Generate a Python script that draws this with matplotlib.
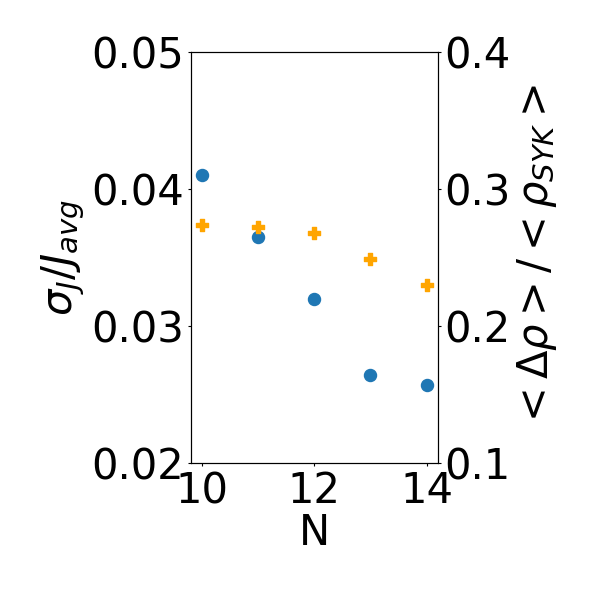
import matplotlib
matplotlib.use("Agg")
import matplotlib.pyplot as plt

# system sizes
N = [10, 11, 12, 13, 14]
# relative coupling spread sigma_J / J_avg (left axis)
sigma_ratio = [0.0410, 0.0365, 0.0320, 0.0264, 0.0257]
# relative density deviation <drho>/<rho_SYK> (right axis)
rho_ratio = [0.2737, 0.2723, 0.2677, 0.2487, 0.2297]

left_ticks = [0.02, 0.03, 0.04, 0.05]
right_ticks = [0.1, 0.2, 0.3, 0.4]
x_ticks = [10, 12, 14]

fs = 30

fig = plt.figure(figsize=(5.98, 5.90), dpi=100)
ax = fig.add_axes([0.319, 0.215, 0.413, 0.697])
ax.scatter(N, sigma_ratio, s=75, color="#1f77b4", marker="o")
ax.set_ylim(0.02, 0.05)
ax.set_yticks(left_ticks)
ax.set_yticklabels(["0.02", "0.03", "0.04", "0.05"])
ax.set_xlim(9.8, 14.2)
ax.set_xticks(x_ticks)
ax.set_xlabel("N", fontsize=fs, labelpad=0)
ax.set_ylabel(r"$\sigma_J/J_{avg}$", fontsize=fs, labelpad=2.5)
ax.tick_params(labelsize=fs, length=2.5, pad=2.5)

ax2 = ax.twinx()
ax2.scatter(N, rho_ratio, s=75, color="orange", marker="P")
ax2.set_ylim(0.1, 0.4)
ax2.set_yticks(right_ticks)
ax2.set_yticklabels(["0.1", "0.2", "0.3", "0.4"])
ax2.set_ylabel(r"$<\Delta\rho>/<\rho_{SYK}>$", fontsize=fs, labelpad=2.5)
ax2.tick_params(labelsize=fs, length=2.5, pad=2.5)

fig.savefig("out.png", dpi=100)
